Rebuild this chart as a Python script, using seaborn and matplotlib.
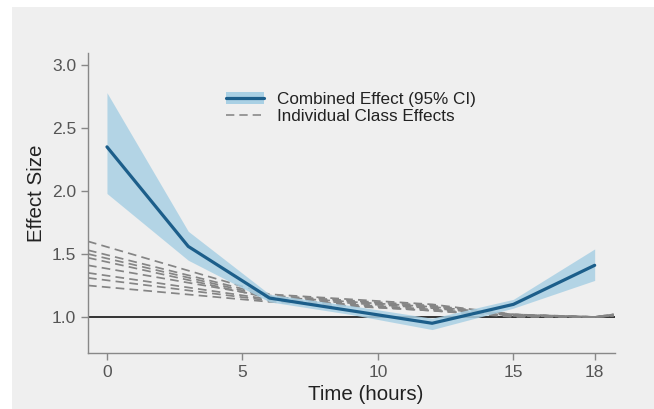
import numpy as np
import pandas as pd
import seaborn as sns
import matplotlib.pyplot as plt
from matplotlib.patches import Rectangle, Patch
from matplotlib.lines import Line2D

# ---- data ----
time_combined = [0, 3, 6, 9, 12, 15, 18]
effect_combined = [2.35, 1.56, 1.15, 1.05, 0.95, 1.10, 1.41]
ci_lower = [1.98, 1.45, 1.12, 1.02, 0.90, 1.07, 1.29]
ci_upper = [2.78, 1.68, 1.18, 1.09, 0.99, 1.14, 1.54]

time_classes = [-0.7, 6, 12, 15, 18, 18.7]
class_1 = [1.60, 1.18, 1.10, 1.02, 1.00, 1.02]
class_2 = [1.53, 1.17, 1.09, 1.02, 1.00, 1.01]
class_3 = [1.50, 1.16, 1.08, 1.01, 1.00, 1.02]
class_4 = [1.47, 1.15, 1.07, 1.01, 1.00, 1.01]
class_5 = [1.41, 1.16, 1.08, 1.02, 1.00, 1.02]
class_6 = [1.35, 1.14, 1.06, 1.01, 1.00, 1.01]
class_7 = [1.31, 1.13, 1.05, 1.00, 1.00, 1.02]
class_8 = [1.25, 1.12, 1.05, 1.01, 1.00, 1.01]
classes = [class_1, class_2, class_3, class_4, class_5, class_6, class_7, class_8]

x_ticks = [0, 5, 10, 15, 18]
y_ticks = [1.0, 1.5, 2.0, 2.5, 3.0]

# ---- style ----
sns.set_theme(style="ticks")
plt.rcParams['font.family'] = ['Liberation Sans', 'DejaVu Sans']
bg = '#efefef'

fig = plt.figure(figsize=(6.54, 4.09), dpi=100)
fig.patch.set_facecolor('white')
fig.patches.append(Rectangle((12 / 654, 0), 1 - 12 / 654, 1 - 7 / 409,
                             transform=fig.transFigure, facecolor=bg,
                             edgecolor='none', zorder=-10))
ax = fig.add_axes([88 / 654, 56 / 409, (615 - 88) / 654, (353 - 53) / 409])
ax.set_facecolor(bg)

# individual class lines
cls_df = pd.DataFrame({
    'time': np.tile(time_classes, len(classes)),
    'effect': np.concatenate(classes),
    'cls': np.repeat(np.arange(len(classes)), len(time_classes)),
})
for k, sub in cls_df.groupby('cls'):
    sns.lineplot(data=sub, x='time', y='effect', ax=ax, color='#858585',
                 lw=1.25, linestyle=(0, (5, 3)), zorder=2, legend=False)

ax.axhline(1.0, color='#333333', lw=1.4, zorder=1)

# combined effect
ax.fill_between(time_combined, ci_lower, ci_upper, color='#a9d0e4',
                alpha=0.85, lw=0, zorder=3)
comb_df = pd.DataFrame({'time': time_combined, 'effect': effect_combined})
sns.lineplot(data=comb_df, x='time', y='effect', ax=ax, color='#1c5e8a',
             lw=2.3, zorder=4, legend=False)

ax.set_xlim(-0.7, 18.75)
ax.set_ylim(0.714, 3.095)
ax.set_xticks(x_ticks)
ax.set_xticklabels([str(t) for t in x_ticks])
ax.set_yticks(y_ticks)
ax.set_yticklabels([f'{t:.1f}' for t in y_ticks])

sns.despine(ax=ax)
for s in ['left', 'bottom']:
    ax.spines[s].set_color('#888888')
    ax.spines[s].set_linewidth(1.0)
ax.tick_params(axis='both', colors='#888888', labelcolor='#555555',
               labelsize=12.5, length=5, width=1)
ax.set_xlabel('Time (hours)', fontsize=14.8, color='#222222')
ax.set_ylabel('Effect Size', fontsize=14.8, color='#222222')
ax.xaxis.set_label_coords(0.526, -0.107)
ax.yaxis.set_label_coords(-0.08, 0.532)

handles = [
    (Patch(facecolor='#a9d0e4', edgecolor='none'),
     Line2D([], [], color='#1c5e8a', lw=2.3)),
    Line2D([], [], color='#8a8a8a', lw=1.2, linestyle=(0, (5, 3))),
]
ax.legend(handles, ['Combined Effect (95% CI)', 'Individual Class Effects'],
          loc='upper left', bbox_to_anchor=(0.233, 0.92), frameon=False,
          fontsize=12.3, handlelength=2.2, labelspacing=0.12,
          handletextpad=0.75, labelcolor='#222222')

fig.savefig('out.png', dpi=100, facecolor=fig.get_facecolor())
